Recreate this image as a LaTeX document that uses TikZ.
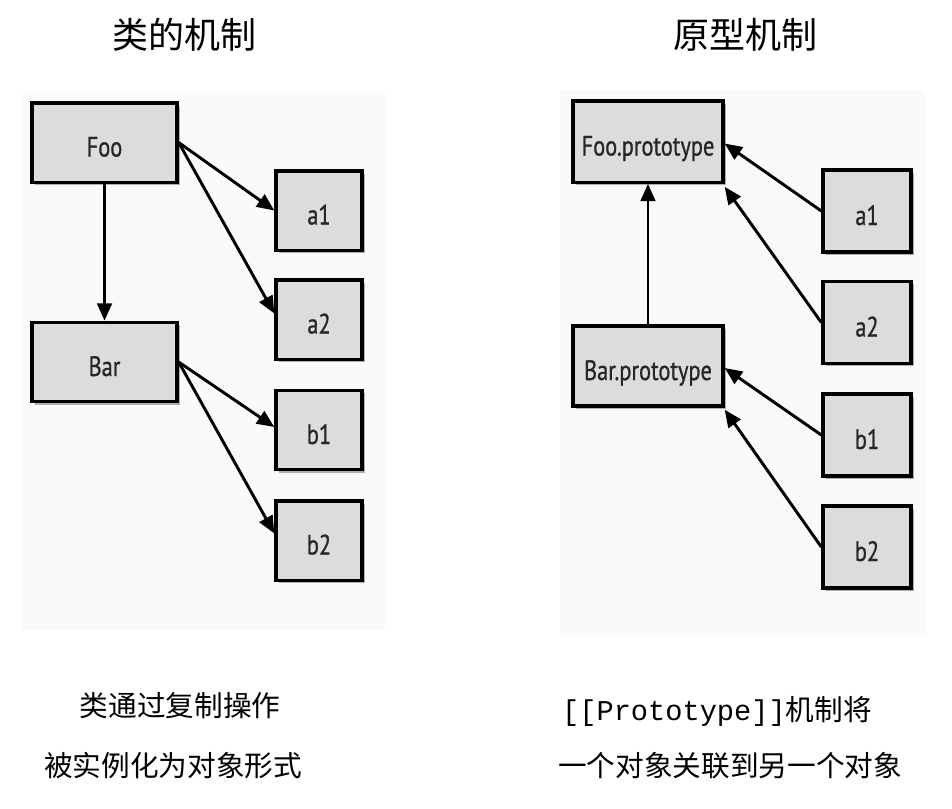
\documentclass[tikz,border=0pt]{standalone}
\usepackage{fontspec}
\usetikzlibrary{arrows.meta,shadows,calc}
\newfontfamily\cjk{Noto Sans CJK SC}
\newfontfamily\boxfont[FakeStretch=0.8,FakeBold=0.8]{PT Sans}
\newfontfamily\monofont{Liberation Mono}
\definecolor{boxgray}{HTML}{DCDCDC}
\definecolor{panelgray}{HTML}{FAFAFA}
\definecolor{labelgray}{HTML}{262626}
\begin{document}
\begin{tikzpicture}[x=0.75pt,y=-0.75pt,
  obj/.style={draw=black, line width=2.5pt, fill=boxgray, inner sep=0pt,
    font=\boxfont\fontsize{21}{24}\selectfont, text=labelgray,
    text height=21pt, text depth=0pt,
    drop shadow={shadow xshift=2.2pt, shadow yshift=-2.2pt, opacity=0.3, fill=black}},
  wide/.style={obj, minimum width=108.75pt, minimum height=59.5pt},
  small/.style={obj, minimum width=64.5pt, minimum height=59.5pt},
  link/.style={line width=2.2pt, -{Triangle[length=13pt,width=11pt]}},
  title/.style={font=\cjk\fontsize{27}{30}\selectfont},
  caption/.style={font=\cjk\fontsize{21.5}{24}\selectfont}]
\useasboundingbox (0,0) rectangle (952,808);
\fill[white] (0,0) rectangle (952,808);
% faint backdrop of the two diagrams
\fill[panelgray] (22,93) rectangle (385,630);
\fill[panelgray] (560,90) rectangle (925,635);

% titles
\node[title] (t1) at (184,35) {类的机制};
\node[title] (t2) at (745,35) {原型机制};

% class mechanism
\node[wide]  (foo) at (104.5,142.5) {Foo};
\node[small] (la1) at (319,210.5) {a1};
\node[small] (la2) at (319,319.5) {a2};
\node[wide]  (bar) at (104.5,362) {Bar};
\node[small] (lb1) at (319,430) {b1};
\node[small] (lb2) at (319,540.5) {b2};

\draw[link] (foo.south) -- (bar.north);
\draw[link] (foo.east) -- (la1.west);
\draw[link] (foo.east) -- ($(la2.west)+(0,-6)$);
\draw[link] (bar.east) -- ($(lb1.west)+(0,-3)$);
\draw[link] (bar.east) -- ($(lb2.west)+(0,-7)$);

% prototype mechanism
\node[wide, minimum width=112.5pt, minimum height=61pt] (foop) at (648,141.5) {Foo.prototype};
\node[small, minimum width=66pt, minimum height=61.5pt] (ra1) at (867,211) {a1};
\node[small, minimum width=66pt, minimum height=61.5pt] (ra2) at (867,322.5) {a2};
\node[wide, minimum width=112.5pt, minimum height=60pt] (barp) at (648,366) {Bar.prototype};
\node[small, minimum width=66pt, minimum height=61.5pt] (rb1) at (867,435) {b1};
\node[small, minimum width=66pt, minimum height=61.5pt] (rb2) at (867,547) {b2};

\draw[link] (barp.north) -- (foop.south);
\draw[link] (ra1.west) -- ($(foop.east)+(0,2)$);
\draw[link] (ra2.west) -- ($(foop.south east)+(0,3)$);
\draw[link] (rb1.west) -- ($(barp.east)+(0,2)$);
\draw[link] (rb2.west) -- ($(barp.south east)+(0,2)$);

% captions
\node[caption] (c1) at (180,706) {类通过复制操作};
\node[caption] (c2) at (173,766) {被实例化为对象形式};
\node[caption] (c3) at (717,711) {{\monofont [[Prototype]]}机制将};
\node[caption] (c4) at (730,766) {一个对象关联到另一个对象};
\end{tikzpicture}
\end{document}
